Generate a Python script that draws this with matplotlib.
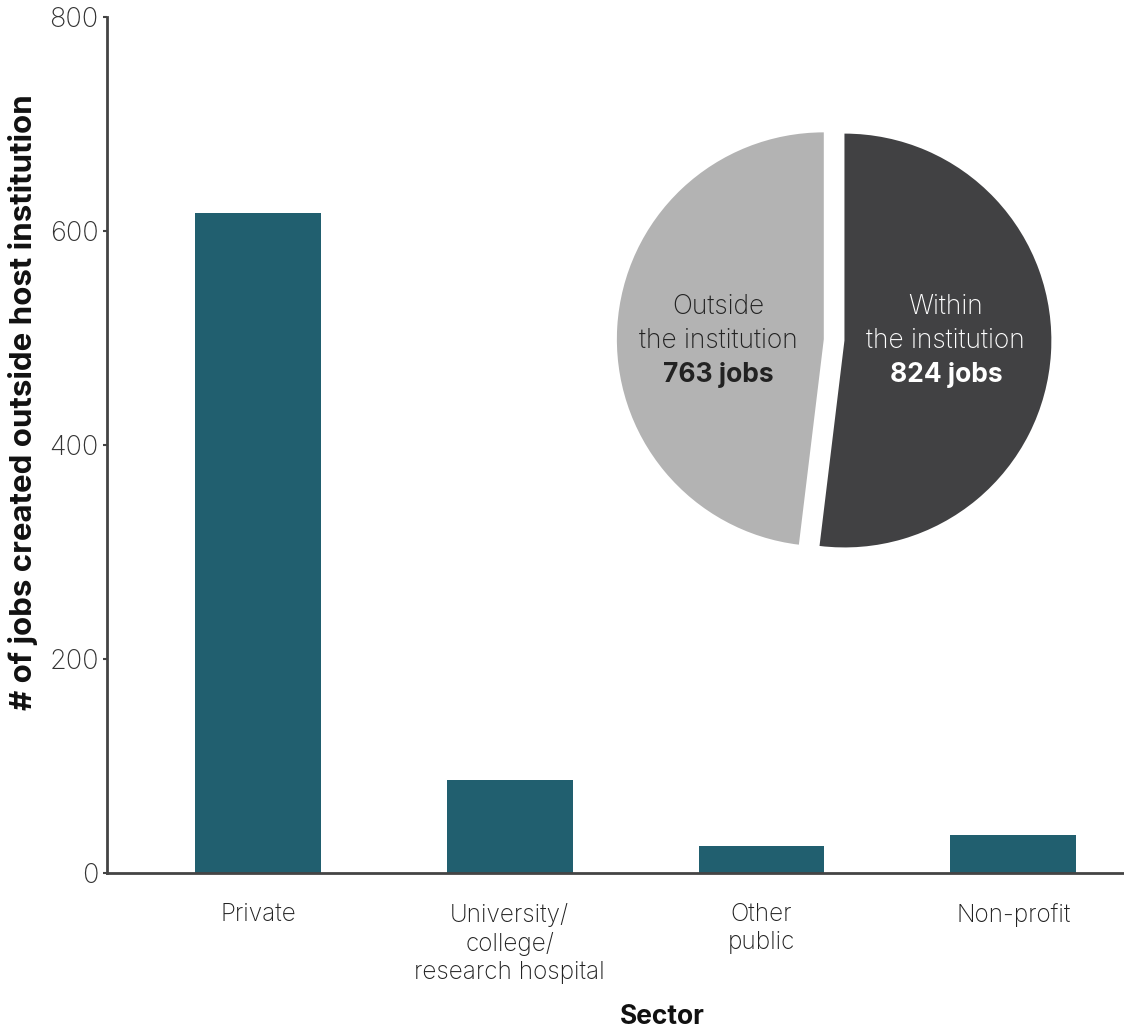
import numpy as np
import matplotlib
matplotlib.use('Agg')
import matplotlib.pyplot as plt

plt.rcParams['font.family'] = ['Inter', 'DejaVu Sans']

# Bar data (jobs created outside host institution, by sector)
sectors = ['Private', 'University/\ncollege/\nresearch hospital', 'Other\npublic', 'Non-profit']
jobs_outside = [617, 87, 25, 35]

# Pie data
pie_labels = ['Within', 'Outside']
pie_values = [824, 763]
pie_totals = ['824 jobs', '763 jobs']

bar_color = '#215f6f'
axis_color = '#444444'
text_color = '#333333'

fig = plt.figure(figsize=(11.24, 10.30), dpi=100)
ax = fig.add_axes([0.0952, 0.1527, 0.9048, 0.8305])

x = np.arange(len(sectors))
ax.bar(x, jobs_outside, width=0.5, color=bar_color)

ax.set_xlim(-0.6, 3.44)
ax.set_ylim(0, 800)
ax.set_yticks([0, 200, 400, 600, 800])
ax.set_xticks(x)
ax.set_xticklabels(sectors, fontsize=17.5, color='#222222', fontweight='light',
                   linespacing=1.27)
ax.tick_params(axis='x', length=0, pad=22)
ax.tick_params(axis='y', length=3, width=1.5, color=axis_color, pad=3,
               labelsize=19.5, labelcolor=text_color)
for lbl in ax.get_yticklabels():
    lbl.set_fontweight('light')

for side in ['top', 'right']:
    ax.spines[side].set_visible(False)
for side in ['left', 'bottom']:
    ax.spines[side].set_color(axis_color)
    ax.spines[side].set_linewidth(2)

fig.text(23 / 1124, 1 - 402 / 1030, '# of jobs created outside host institution',
         rotation=90, ha='center', va='center', fontsize=22.5, fontweight='bold',
         color='#111111')
fig.text(662 / 1124, 1 - 1017 / 1030, 'Sector', ha='center', va='center',
         fontsize=19, fontweight='bold', color='#111111')

# Inset pie
pax = fig.add_axes([0.5396, 0.449, 0.405, 0.442])
pax.pie(pie_values, colors=['#414143', '#b3b3b3'], startangle=90,
        counterclock=False, explode=[0.05, 0.05])
pax.set_xlim(-1.1, 1.1)
pax.set_ylim(-1.1, 1.1)
pax.set_aspect('equal')
pax.axis('off')

label_x = [0.54, -0.56]
label_col = ['white', '#222222']
for lx, lab, tot, col in zip(label_x, pie_labels, pie_totals, label_col):
    pax.text(lx, 0.16, lab, ha='center', va='center', fontsize=19,
             fontweight='light', color=col)
    pax.text(lx, -0.005, 'the institution', ha='center', va='center', fontsize=19,
             fontweight='light', color=col)
    pax.text(lx, -0.17, tot, ha='center', va='center', fontsize=19,
             fontweight='bold', color=col)

fig.savefig('out.png', dpi=100)
